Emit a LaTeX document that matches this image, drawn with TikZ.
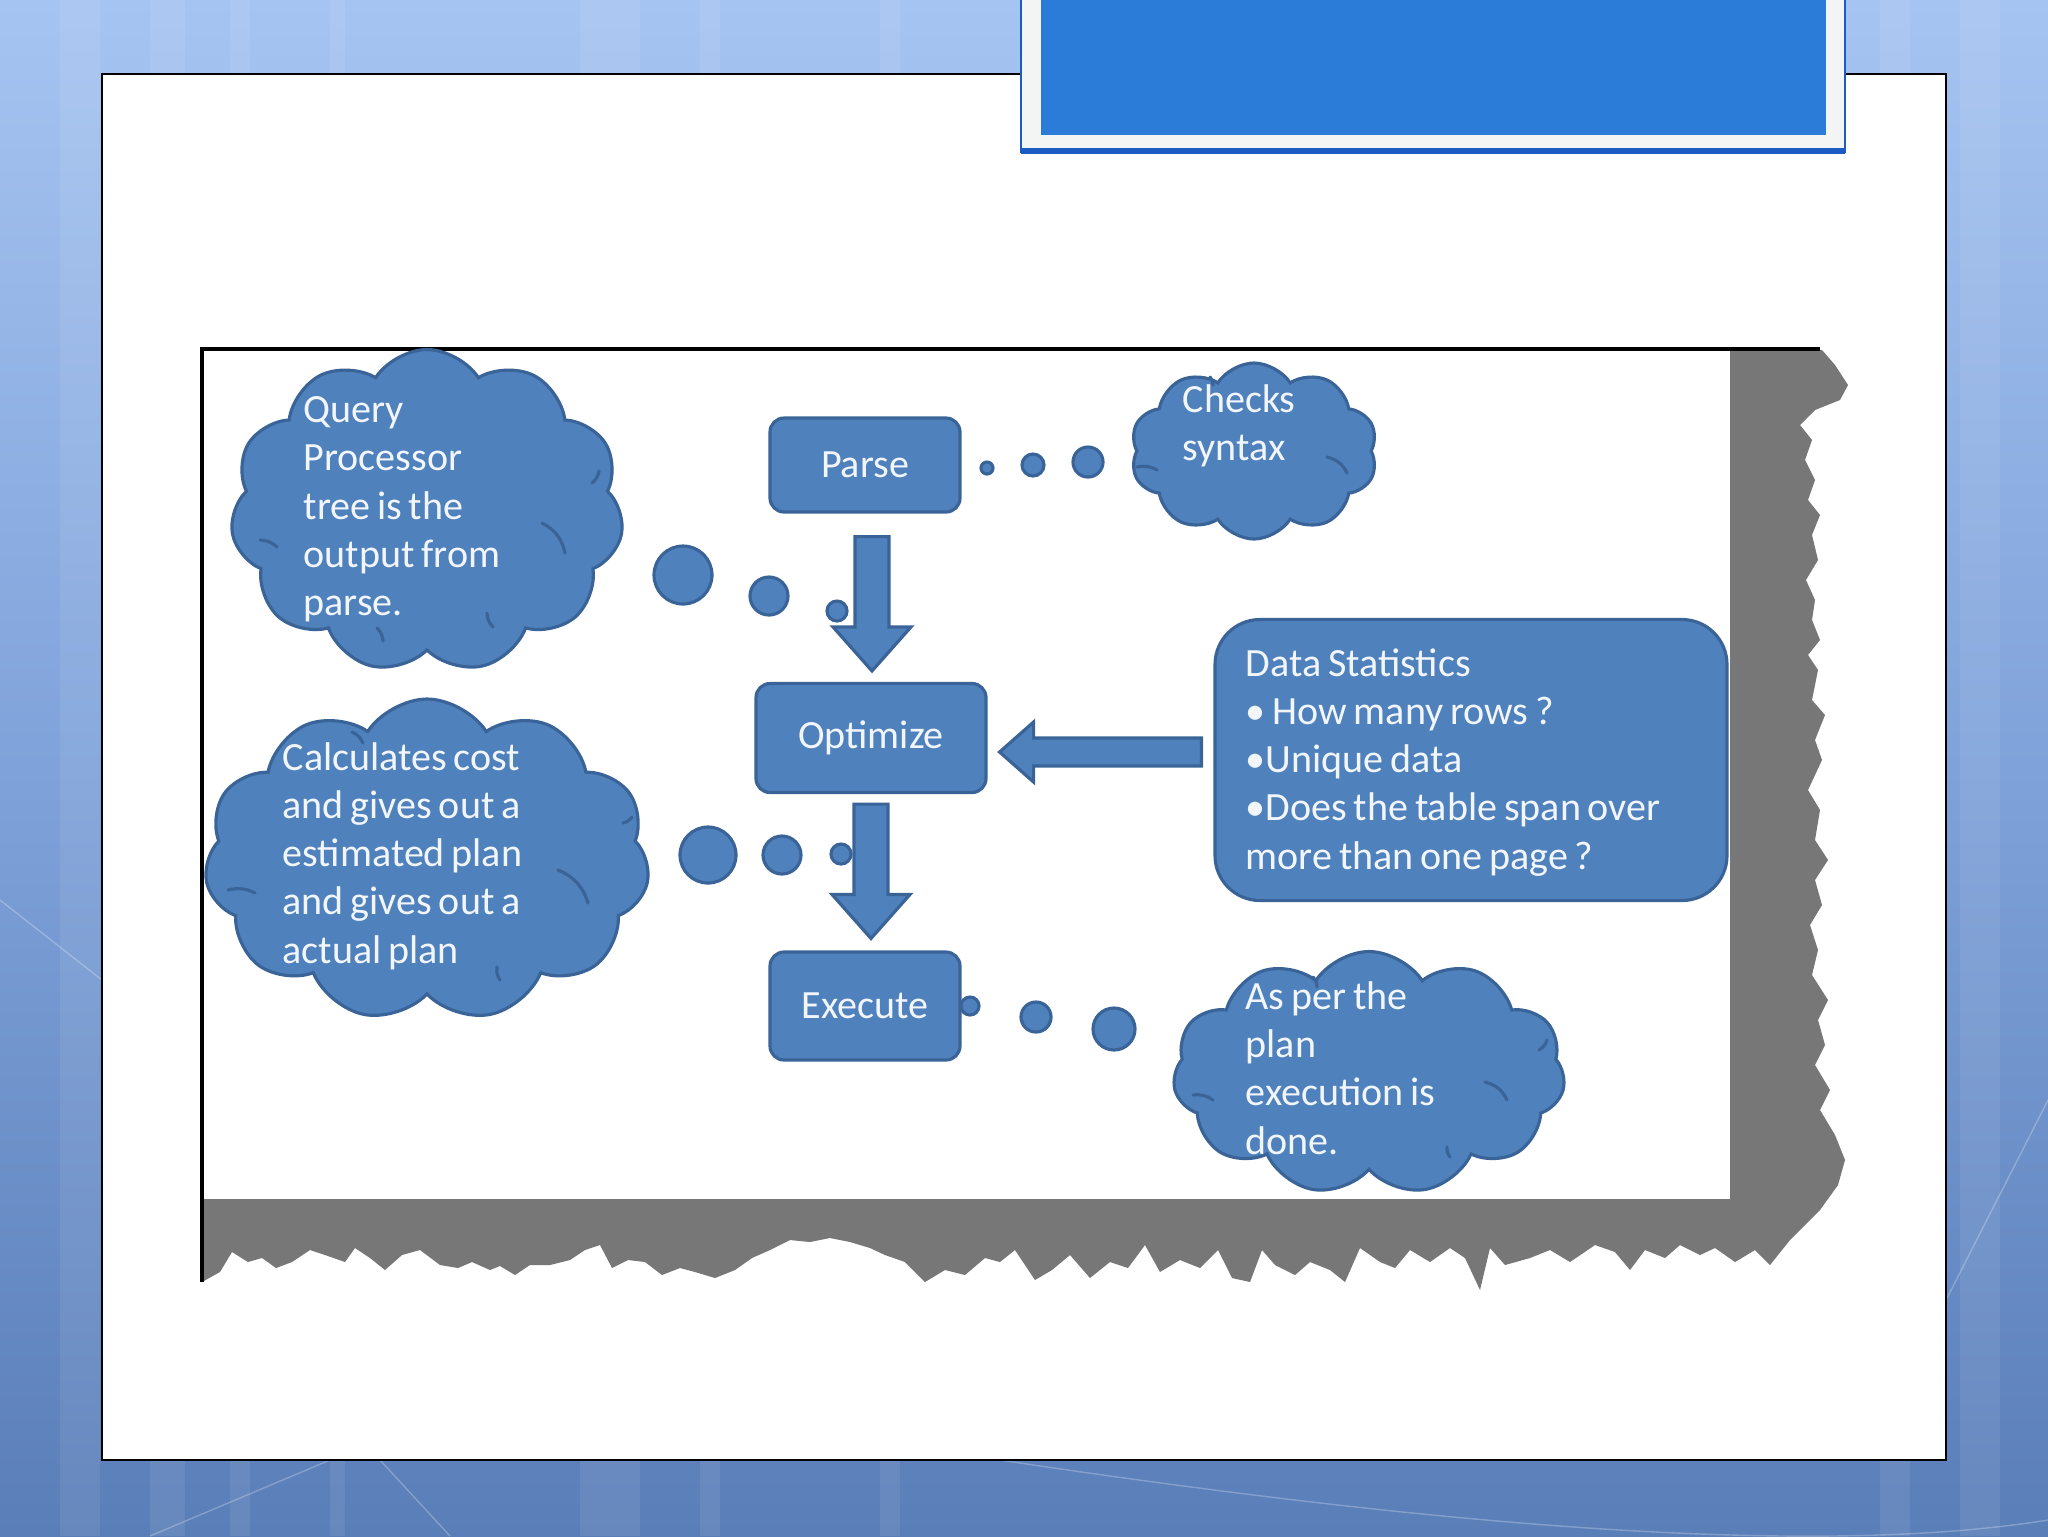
\documentclass[tikz,border=0pt]{standalone}
\usepackage{fontspec}
\setmainfont{Carlito}[WordSpace=0.75]
\usetikzlibrary{shapes.symbols,calc}
\definecolor{bgtop}{HTML}{A6C4F1}
\definecolor{bgmid}{HTML}{7FA2DA}
\definecolor{bgbot}{HTML}{5A7EB8}
\definecolor{shapefill}{HTML}{4F81BD}
\definecolor{shapeline}{HTML}{3A6498}
\definecolor{txt}{HTML}{F2F6FB}
\definecolor{titleblue}{HTML}{2B7CD8}
\definecolor{titleline}{HTML}{1D5BC4}
\definecolor{titlebg}{HTML}{F3F5F5}
\definecolor{shadowgray}{HTML}{777777}
\begin{document}
\begin{tikzpicture}[x=0.1mm,y=-0.1mm,
  lbl/.style={font=\fontsize{11.4}{13.7}\selectfont, text=txt},
  box/.style={draw=shapeline, fill=shapefill, line width=0.9pt, rounded corners=1.4mm, lbl, inner sep=0},
  cloudshape/.style={cloud, cloud puffs=11, cloud puff arc=115, draw=shapeline, fill=shapefill, line width=0.9pt, inner sep=0},
  cloudtext/.style={lbl, align=left, anchor=north west, inner sep=0},
  bubble/.style={circle, draw=shapeline, fill=shapefill, line width=0.9pt, inner sep=0},
  blockarrow/.style={draw=shapeline, fill=shapefill, line width=0.9pt, line join=miter},
  innerarc/.style={draw=shapeline, line width=0.9pt, line cap=round}
]
\useasboundingbox (0,0) rectangle (2048,1536);
% background
\shade[top color=bgtop, bottom color=bgbot, middle color=bgmid] (0,0) rectangle (2048,1536);
\foreach \a/\b in {60/100,150/185,230/250,330/345,580/640,700/720,880/900,1880/1910,1960/2000}
  \fill[white, opacity=0.08] (\a,0) rectangle (\b,1536);
\draw[white, opacity=0.25, line width=0.4pt] (150,1536) -- (330,1460);
\draw[white, opacity=0.25, line width=0.4pt] (450,1536) -- (380,1460);
\draw[white, opacity=0.25, line width=0.4pt] (1000,1460) .. controls (1400,1520) and (1800,1560) .. (2048,1520);
\draw[white, opacity=0.25, line width=0.4pt] (2048,1100) -- (1946,1300);
\draw[white, opacity=0.25, line width=0.4pt] (0,900) -- (102,980);
% slide panel
\draw[fill=white, line width=0.6pt] (102,74) rectangle (1946,1460);
% title box
\draw[fill=titlebg, draw=titleline, line width=0.8pt] (1021,-5) rectangle (1845,152);
\draw[titleline, line width=1.6pt] (1021,151) -- (1845,151);
\fill[titleblue] (1041,-5) rectangle (1826,135);
% shadow of the picture
\fill[shadowgray] (202,349) -- (1822,350) -- (1835,365) -- (1848,385) -- (1840,400) -- (1815,410) -- (1800,425) -- (1812,440) -- (1805,460) -- (1815,480) -- (1808,500) -- (1820,515) -- (1812,535) -- (1818,560) -- (1806,580) -- (1815,600) -- (1812,620) -- (1820,640) -- (1808,655) -- (1818,670) -- (1812,700) -- (1825,715) -- (1815,740) -- (1822,760) -- (1808,790) -- (1820,810) -- (1815,840) -- (1828,860) -- (1815,880) -- (1822,905) -- (1810,925) -- (1818,950) -- (1812,975) -- (1828,1000) -- (1818,1020) -- (1825,1045) -- (1815,1065) -- (1830,1090) -- (1820,1110) -- (1835,1135) -- (1845,1160) -- (1838,1185) -- (1820,1210) -- (1805,1225) -- (1790,1240) -- (1770,1265) -- (1755,1250) -- (1735,1262) -- (1715,1248) -- (1700,1255) -- (1680,1245) -- (1665,1258) -- (1645,1250) -- (1630,1270) -- (1615,1252) -- (1595,1245) -- (1570,1262) -- (1550,1250) -- (1530,1258) -- (1505,1265) -- (1490,1248) -- (1480,1290) -- (1465,1258) -- (1450,1248) -- (1430,1262) -- (1410,1250) -- (1395,1268) -- (1380,1262) -- (1360,1248) -- (1345,1282) -- (1330,1270) -- (1310,1262) -- (1295,1275) -- (1275,1265) -- (1262,1250) -- (1250,1282) -- (1232,1278) -- (1218,1250) -- (1200,1268) -- (1180,1260) -- (1160,1272) -- (1145,1245) -- (1128,1268) -- (1110,1262) -- (1090,1278) -- (1070,1255) -- (1052,1270) -- (1035,1280) -- (1015,1250) -- (1000,1262) -- (985,1258) -- (965,1275) -- (945,1270) -- (925,1282) -- (905,1262) -- (885,1255) -- (870,1248) -- (850,1242) -- (830,1238) -- (810,1242) -- (790,1240) -- (770,1250) -- (752,1258) -- (735,1270) -- (715,1278) -- (695,1272) -- (680,1268) -- (662,1275) -- (645,1262) -- (628,1260) -- (612,1268) -- (600,1245) -- (585,1250) -- (570,1260) -- (550,1265) -- (530,1265) -- (515,1275) -- (500,1266) -- (490,1270) -- (472,1262) -- (458,1268) -- (440,1265) -- (420,1250) -- (402,1255) -- (385,1270) -- (370,1258) -- (355,1248) -- (345,1262) -- (325,1255) -- (310,1250) -- (292,1262) -- (276,1268) -- (262,1258) -- (248,1262) -- (232,1252) -- (220,1272) -- (202,1282) -- cycle;
\fill[white] (202,349) rectangle (1730,1199);
\draw[black, line width=0.9pt] (202,1282) -- (202,349) -- (1820,349);
% process boxes
\node[box, minimum width=19mm, minimum height=9.4mm] (parse) at (865,465) {Parse};
\node[box, minimum width=23mm, minimum height=10.9mm] (optimize) at (871,738) {Optimize};
\node[box, minimum width=19mm, minimum height=10.8mm] (execute) at (865,1006) {Execute};
\node[box, rounded corners=4.5mm, minimum width=51.2mm, minimum height=28.1mm] (stats) at (1471,760) {};
\node[cloudtext] (statstext) at (1245,648) {Data Statistics\\\textbullet\ How many rows ?\\\textbullet Unique data\\\textbullet Does the table span over\\more than one page ?};
% clouds
\node[cloudshape, minimum width=39.3mm, minimum height=32.3mm, aspect=1.22] (qcloud) at (427,511) {};
\node[cloudshape, minimum width=44.5mm, minimum height=32.2mm, aspect=1.38] (ccloud) at (427,860) {};
\node[cloudshape, minimum width=24.7mm, minimum height=17.6mm, aspect=1.4, cloud puffs=10] (scloud) at (1254,451) {};
\node[cloudshape, minimum width=39.2mm, minimum height=24.3mm, aspect=1.6] (ecloud) at (1369,1073) {};
% inner puff lines of the clouds
\draw[innerarc] ($(qcloud.center)+(115,12)$) to[bend left=25] ($(qcloud.center)+(138,42)$);
\draw[innerarc] ($(qcloud.center)+(-167,29)$) to[bend left=20] ($(qcloud.center)+(-150,36)$);
\draw[innerarc] ($(qcloud.center)+(-50,117)$) to[bend left=20] ($(qcloud.center)+(-44,130)$);
\draw[innerarc] ($(qcloud.center)+(60,102)$) to[bend right=20] ($(qcloud.center)+(66,116)$);
\draw[innerarc] ($(qcloud.center)+(165,-28)$) to[bend right=20] ($(qcloud.center)+(172,-40)$);
\draw[innerarc] ($(ccloud.center)+(131,10)$) to[bend left=25] ($(ccloud.center)+(161,43)$);
\draw[innerarc] ($(ccloud.center)+(-199,30)$) to[bend left=20] ($(ccloud.center)+(-172,33)$);
\draw[innerarc] ($(ccloud.center)+(-75,-128)$) to[bend left=20] ($(ccloud.center)+(-64,-117)$);
\draw[innerarc] ($(ccloud.center)+(70,107)$) to[bend right=20] ($(ccloud.center)+(73,120)$);
\draw[innerarc] ($(ccloud.center)+(196,-37)$) to[bend right=20] ($(ccloud.center)+(205,-43)$);
\draw[innerarc] ($(ecloud.center)+(116,9)$) to[bend left=25] ($(ecloud.center)+(138,27)$);
\draw[innerarc] ($(ecloud.center)+(-176,22)$) to[bend left=20] ($(ecloud.center)+(-156,27)$);
\draw[innerarc] ($(ecloud.center)+(-56,-96)$) to[bend left=20] ($(ecloud.center)+(-52,-86)$);
\draw[innerarc] ($(ecloud.center)+(170,-23)$) to[bend right=20] ($(ecloud.center)+(178,-33)$);
\draw[innerarc] ($(ecloud.center)+(78,74)$) to[bend right=20] ($(ecloud.center)+(81,84)$);
\draw[innerarc] ($(scloud.center)+(73,6)$) to[bend left=25] ($(scloud.center)+(93,22)$);
\draw[innerarc] ($(scloud.center)+(-117,16)$) to[bend left=20] ($(scloud.center)+(-97,19)$);
\draw[innerarc] ($(scloud.center)+(-44,-74)$) to[bend left=20] ($(scloud.center)+(-41,-66)$);
\node[cloudtext] (qtext) at (303,396) {Query\\Processor\\tree is the\\output from\\parse.};
\node[cloudtext] (ctext) at (282,742) {Calculates cost\\and gives out a\\estimated plan\\and gives out a\\actual plan};
\node[cloudtext] (stext) at (1182,384) {Checks\\syntax};
\node[cloudtext] (etext) at (1245,981) {As per the\\plan\\execution is\\done.};
% thought bubbles
\node[bubble, minimum size=1.2mm] (p1) at (987,468) {};
\node[bubble, minimum size=2.2mm] (p2) at (1033,465) {};
\node[bubble, minimum size=3.0mm] (p3) at (1088,462) {};
\node[bubble, minimum size=5.8mm] (q1) at (683,575) {};
\node[bubble, minimum size=3.8mm] (q2) at (769,596) {};
\node[bubble, minimum size=2.0mm] (q3) at (837,611) {};
\node[bubble, minimum size=5.6mm] (c1) at (708,855) {};
\node[bubble, minimum size=3.8mm] (c2) at (782,855) {};
\node[bubble, minimum size=2.0mm] (c3) at (841,854) {};
\node[bubble, minimum size=1.8mm] (e1) at (970,1006) {};
\node[bubble, minimum size=3.0mm] (e2) at (1036,1017) {};
\node[bubble, minimum size=4.2mm] (e3) at (1114,1029) {};
% block arrows
\coordinate (a1s) at ($(parse.south)+(7,23)$);
\coordinate (a1t) at ($(optimize.north)+(1,-11)$);
\draw[blockarrow] ($(a1s)+(-17,0)$) -- ($(a1s)+(17,0)$) -- ($(a1t)+(17,-44)$) -- ($(a1t)+(39,-44)$) -- (a1t) -- ($(a1t)+(-39,-44)$) -- ($(a1t)+(-17,-44)$) -- cycle;
\coordinate (a2s) at ($(optimize.south)+(0,10)$);
\coordinate (a2t) at ($(execute.north)+(6,-12)$);
\draw[blockarrow] ($(a2s)+(-17,0)$) -- ($(a2s)+(17,0)$) -- ($(a2t)+(17,-44)$) -- ($(a2t)+(39,-44)$) -- (a2t) -- ($(a2t)+(-39,-44)$) -- ($(a2t)+(-17,-44)$) -- cycle;
\coordinate (a3s) at ($(stats.west)+(-12,-8)$);
\coordinate (a3t) at ($(optimize.east)+(12,14)$);
\draw[blockarrow] ($(a3s)+(0,-14)$) -- ($(a3s)+(0,14)$) -- ($(a3t)+(34,14)$) -- ($(a3t)+(34,30)$) -- (a3t) -- ($(a3t)+(34,-30)$) -- ($(a3t)+(34,-14)$) -- cycle;
\end{tikzpicture}
\end{document}
